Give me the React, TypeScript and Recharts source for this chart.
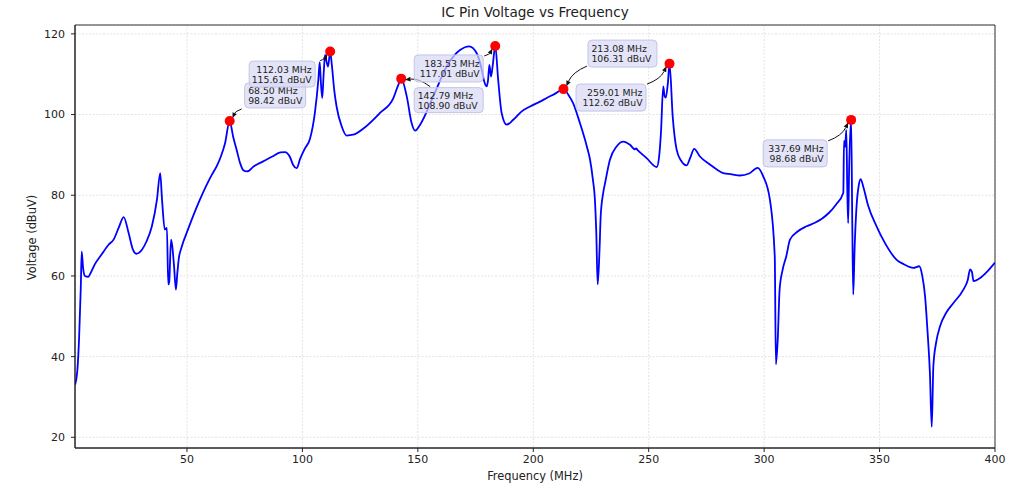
import React from "react";
import {
  LineChart,
  Line,
  XAxis,
  YAxis,
  CartesianGrid,
  ReferenceDot,
  ReferenceArea,
} from "recharts";

// Frequency sweep (MHz) and pin voltage (dBuV)
const freqs = [
  1.5, 2.5, 3.3, 4.0, 4.4, 5.0, 5.8, 7.2, 8.5, 10.0, 13.0, 16.1, 18.2, 20.4, 22.6, 24.7,
  26.6, 28.0, 30.5, 32.5, 34.8, 37.0, 38.4, 39.2, 40.4, 41.3, 41.9, 42.3, 43.1, 43.6,
  44.4, 45.2, 45.8, 46.5, 47.5, 50.7, 55.6, 60.8, 62.9, 64.8, 66.5, 68.5, 70.0, 71.5,
  73.0, 74.4, 76.0, 79.0, 83.0, 87.0, 90.5, 92.4, 94.5, 96.0, 97.5, 99.0, 101.0, 103.3,
  105.4, 106.9, 107.5, 108.0, 108.6, 109.2, 109.8, 110.5, 111.1, 112.03, 112.8, 113.8,
  114.8, 117.0, 119.2, 122.0, 127.0, 133.6, 139.4, 141.5, 142.79, 145.2, 147.3, 148.8,
  151.0, 156.7, 162.5, 165.5, 168.3, 172.2, 175.5, 177.7, 178.7, 179.8, 180.4, 181.0,
  181.7, 182.5, 183.53, 184.8, 186.3, 188.5, 191.3, 195.0, 198.6, 202.9, 205.8, 209.5,
  213.08, 215.3, 217.3, 220.2, 223.2, 224.6, 225.8, 226.7, 227.3, 227.9, 228.7, 229.2,
  230.3, 231.1, 233.2, 236.1, 239.0, 241.9, 244.0, 244.5, 245.2, 249.1, 253.5, 254.5,
  255.3, 256.3, 256.9, 257.4, 258.3, 259.01, 260.4, 262.1, 264.0, 266.4, 268.0, 269.7,
  272.2, 276.5, 279.5, 282.3, 286.0, 289.5, 293.5, 297.2, 299.6, 302.5, 304.6, 305.1,
  305.9, 306.7, 308.0, 309.6, 311.2, 314.5, 318.4, 322.0, 325.0, 328.0, 331.0, 334.3,
  334.6, 335.1, 335.6, 336.0, 336.4, 336.8, 337.69, 338.2, 338.6, 339.2, 340.0, 341.0,
  341.8, 343.0, 345.0, 348.7, 352.0, 357.4, 360.5, 364.6, 367.2, 368.5, 369.7, 370.8,
  371.8, 372.6, 373.3, 374.5, 376.2, 379.0, 382.0, 386.3, 388.2, 389.2, 390.0, 390.7,
  393.6, 396.5, 400.0,
];

const volts = [
  33.0, 36.5, 45.0, 57.0, 66.0, 62.0, 60.0, 59.8, 61.0, 62.8, 65.3, 67.8, 69.0, 71.9, 74.6, 70.7,
  66.5, 65.5, 66.5, 68.6, 72.3, 78.9, 85.5, 78.9, 71.5, 71.9, 57.9, 58.5, 69.0, 67.5,
  62.5, 56.6, 60.5, 64.5, 66.8, 71.9, 78.9, 85.1, 87.2, 89.8, 92.9, 98.42, 94.5, 91.3,
  88.0, 86.2, 85.9, 87.2, 88.4, 89.6, 90.6, 90.7, 89.6, 87.5, 86.7, 89.0, 91.5, 94.0,
  100.4, 108.6, 113.0, 108.0, 104.1, 110.0, 114.8, 113.0, 111.9, 115.61, 112.0, 106.0,
  102.0, 97.1, 94.8, 95.0, 96.8, 100.4, 104.1, 107.3, 108.9, 104.5, 97.9, 96.0,
  97.5, 104.5, 111.9, 114.5, 116.0, 116.9, 115.2, 111.1, 108.3, 107.0, 108.5, 112.3,
  109.4, 112.5, 117.01, 108.6, 100.4, 97.5, 98.7, 100.8, 102.0, 103.2, 104.1, 105.2,
  106.31, 104.8, 102.8, 97.9, 92.1, 88.8, 84.0, 78.9, 70.7, 57.9, 66.5, 74.8,
  80.6, 83.0, 88.8, 92.1, 93.3, 92.5, 91.4, 91.6, 91.2, 89.2, 87.0, 89.5,
  95.4, 107.0, 104.5, 104.2, 107.8, 112.62, 99.5, 91.3, 88.6, 87.4, 89.3, 91.5,
  89.6, 87.6, 86.4, 85.5, 85.2, 84.9, 85.4, 86.8, 84.7, 78.9, 64.9, 38.1,
  44.3, 56.6, 61.5, 64.9, 69.0, 71.0, 72.3, 73.2, 74.2, 75.6, 77.6, 80.6,
  93.5, 92.0, 96.2, 82.0, 73.1, 86.0, 98.68, 72.0, 55.4, 67.0, 77.0, 82.5,
  84.0, 82.0, 77.5, 72.3, 68.5, 64.0, 62.9, 62.0, 62.4, 60.0, 55.0, 46.0,
  36.0, 22.6, 37.6, 43.5, 47.5, 51.0, 53.3, 56.6, 59.0, 61.6, 61.0, 58.7,
  59.5, 61.0, 63.3,
];

// Annotated peaks
const peakFreqs = [68.5, 112.03, 142.79, 183.53, 213.08, 259.01, 337.69];
const peakVolts = [98.42, 115.61, 108.9, 117.01, 106.31, 112.62, 98.68];

const xTicks = [50, 100, 150, 200, 250, 300, 350, 400];
const yTicks = [20, 40, 60, 80, 100, 120];
const xDomain = [1.5, 400];
const yDomain = [17.35, 122.2];

// box offset from the dot (px), box size, text alignment, arrow start offset
const labelLayout = [
  { dx: 15, dy: -38, w: 61, h: 25, align: "left", ax: 12, ay: -12 },
  { dx: -81, dy: 9.5, w: 66, h: 26, align: "right", ax: -10, ay: 9 },
  { dx: 13, dy: 9, w: 69, h: 25, align: "left", ax: 29, ay: 8 },
  { dx: -81, dy: 9, w: 69, h: 27, align: "right", ax: -11, ay: 10 },
  { dx: 24.5, dy: -49, w: 69, h: 27, align: "left", ax: 23.5, ay: -23 },
  { dx: -93.5, dy: 20.4, w: 70, h: 27, align: "right", ax: -22.5, ay: 20.5 },
  { dx: -88, dy: 20, w: 64, h: 27, align: "right", ax: -23, ay: 21 },
];

const FONT = "DejaVu Sans";
const data = freqs.map((f, i) => ({ f, v: volts[i] }));

function PeakMarker(props: any) {
  const { cx, cy, idx } = props;
  const lay = labelLayout[idx];
  const bx = cx + lay.dx;
  const by = cy + lay.dy;
  const tx = lay.align === "left" ? bx + 3.5 : bx + lay.w - 3.5;
  const anchor = lay.align === "left" ? "start" : "end";

  // curved arrow (arc3, rad=0.2) from box toward the dot
  const sx = cx + lay.ax;
  const sy = cy + lay.ay;
  let ex = cx;
  let ey = cy;
  const L = Math.hypot(sx - ex, sy - ey);
  ex += ((sx - ex) / L) * 4;
  ey += ((sy - ey) / L) * 4;
  const dx = ex - sx;
  const dy = ey - sy;
  const qx = (sx + ex) / 2 - 0.2 * dy;
  const qy = (sy + ey) / 2 + 0.2 * dx;
  const tl = Math.hypot(ex - qx, ey - qy);
  const ux = (ex - qx) / tl;
  const uy = (ey - qy) / tl;
  const hx = ex - ux * 5.5;
  const hy = ey - uy * 5.5;
  const head = `${ex},${ey} ${hx - uy * 2.3},${hy + ux * 2.3} ${hx + uy * 2.3},${hy - ux * 2.3}`;

  return (
    <g>
      <circle cx={cx} cy={cy} r={5} fill="#ff0000" />
      <rect
        x={bx}
        y={by}
        width={lay.w}
        height={lay.h}
        rx={4}
        fill="#d9d9f5"
        fillOpacity={0.7}
        stroke="#c4c4e4"
        strokeWidth={1}
      />
      <text
        x={tx}
        y={by + lay.h / 2 - 5}
        textAnchor={anchor}
        dominantBaseline="central"
        fontFamily={FONT}
        fontSize={9.3}
        fill="#222"
      >
        {peakFreqs[idx].toFixed(2)} MHz
      </text>
      <text
        x={tx}
        y={by + lay.h / 2 + 5}
        textAnchor={anchor}
        dominantBaseline="central"
        fontFamily={FONT}
        fontSize={9.3}
        fill="#222"
      >
        {peakVolts[idx].toFixed(2)} dBuV
      </text>
      <path d={`M${sx},${sy} Q${qx},${qy} ${hx},${hy}`} fill="none" stroke="#111" strokeWidth={1} />
      <polygon points={head} fill="#111" />
    </g>
  );
}

export default function App() {
  const tick = { fontSize: 11, fill: "#222", fontFamily: FONT };
  return (
    <div
      style={{
        position: "absolute",
        left: 0,
        top: 0,
        width: 1021,
        height: 493,
        background: "#fff",
        fontFamily: FONT,
      }}
    >
      <div
        style={{
          position: "absolute",
          left: 0,
          width: 1070,
          top: 4,
          textAlign: "center",
          fontSize: 13.6,
          lineHeight: "17px",
          color: "#222",
        }}
      >
        IC Pin Voltage vs Frequency
      </div>
      <div
        style={{
          position: "absolute",
          left: 0,
          width: 1070,
          top: 469,
          textAlign: "center",
          fontSize: 11.4,
          lineHeight: "15px",
          color: "#222",
        }}
      >
        Frequency (MHz)
      </div>
      <div
        style={{
          position: "absolute",
          left: 32 - 60,
          width: 120,
          top: 237 - 7.5,
          textAlign: "center",
          fontSize: 11.4,
          lineHeight: "15px",
          color: "#222",
          transform: "rotate(-90deg)",
        }}
      >
        Voltage (dBuV)
      </div>
      <LineChart
        width={1021}
        height={493}
        data={data}
        margin={{ top: 25, right: 26, bottom: 0, left: 0 }}
      >
        <CartesianGrid strokeDasharray="2 1.5" stroke="#e3e3e3" />
        <XAxis
          type="number"
          dataKey="f"
          domain={xDomain}
          ticks={xTicks}
          height={45}
          tick={tick}
          tickSize={4}
          tickMargin={3}
          tickLine={{ stroke: "#222" }}
          axisLine={{ stroke: "#222" }}
          allowDataOverflow
        />
        <YAxis
          type="number"
          domain={yDomain}
          ticks={yTicks}
          width={75}
          tick={tick}
          tickSize={4}
          tickMargin={6}
          tickLine={{ stroke: "#222" }}
          axisLine={{ stroke: "#222" }}
          allowDataOverflow
        />
        <ReferenceArea
          x1={xDomain[0]}
          x2={xDomain[1]}
          y1={yDomain[0]}
          y2={yDomain[1]}
          fill="none"
          stroke="#333"
          strokeWidth={1}
          ifOverflow="visible"
        />
        <Line
          type="monotone"
          dataKey="v"
          stroke="#0000ff"
          strokeWidth={1.8}
          dot={false}
          activeDot={false}
          isAnimationActive={false}
        />
        {peakFreqs.map((f, i) => (
          <ReferenceDot
            key={f}
            x={f}
            y={peakVolts[i]}
            r={5}
            ifOverflow="visible"
            shape={(p: any) => <PeakMarker {...p} idx={i} />}
          />
        ))}
      </LineChart>
    </div>
  );
}
